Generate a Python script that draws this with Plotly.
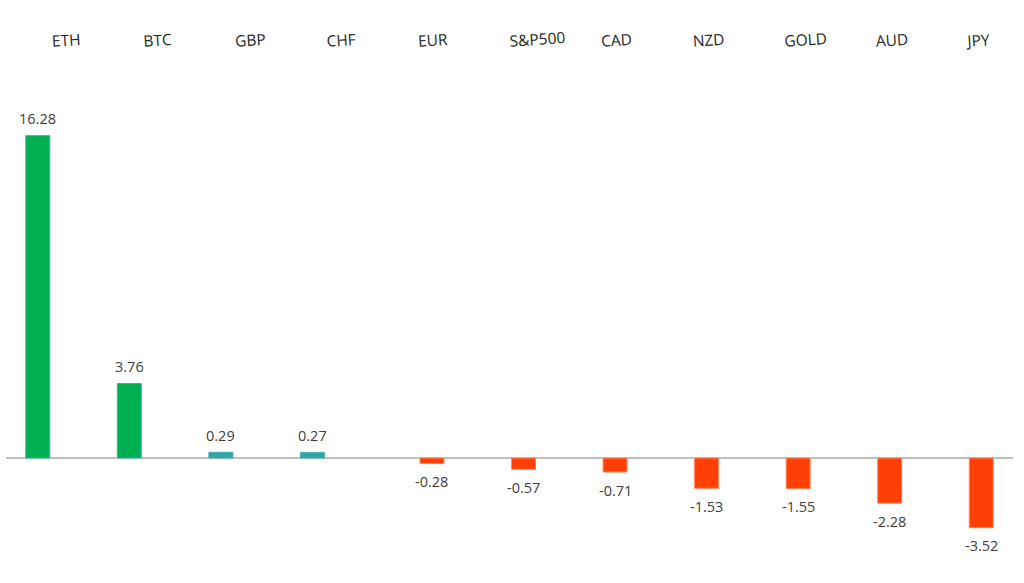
import plotly.graph_objects as go

categories = ["ETH", "BTC", "GBP", "CHF", "EUR", "S&P500", "CAD", "NZD", "GOLD", "AUD", "JPY"]
values = [16.28, 3.76, 0.29, 0.27, -0.28, -0.57, -0.71, -1.53, -1.55, -2.28, -3.52]
pos_colors = ["#00B050", "#00B050", "#2FA3A8", "#2FA3A8"]
neg_color = "#FF3F05"

idx = list(range(len(categories)))
bar_w = 0.262
shift = 0.153

pos_x = [i for i, v in zip(idx, values) if v >= 0]
pos_y = [v for v in values if v >= 0]
neg_x = [i for i, v in zip(idx, values) if v < 0]
neg_y = [v for v in values if v < 0]

fig = go.Figure()
fig.add_trace(go.Bar(
    x=pos_x, y=pos_y, width=bar_w, offset=-shift - bar_w / 2,
    marker=dict(color=pos_colors, line=dict(color="#3FAFA8", width=1)),
    hoverinfo="skip", showlegend=False,
))
fig.add_trace(go.Bar(
    x=neg_x, y=neg_y, width=bar_w, offset=shift - bar_w / 2,
    marker=dict(color=neg_color, line=dict(color="#FF8A5C", width=1)),
    hoverinfo="skip", showlegend=False,
))

for i, v in zip(idx, values):
    xc = i - shift if v >= 0 else i + shift
    fig.add_annotation(
        x=xc, y=v, text=f"{v:.2f}", showarrow=False,
        yshift=17 if v >= 0 else -18,
        font=dict(family="Open Sans", size=14.5, color="#404040"),
    )

fig.update_layout(
    width=1024, height=583,
    margin=dict(l=6, r=11, t=60, b=33, autoexpand=False),
    paper_bgcolor="white", plot_bgcolor="white",
    barmode="overlay",
    xaxis=dict(
        side="top", range=[-0.5, 10.5], tickmode="array",
        tickvals=idx, ticktext=categories, tickangle=-4,
        ticklabelshift=0, ticklabelstandoff=9,
        showgrid=False, zeroline=False, showline=False, ticks="",
        tickfont=dict(family="Open Sans", size=15.5, color="#262626"),
        fixedrange=True, automargin=False,
    ),
    yaxis=dict(
        range=[-(550 - 458) / 19.8, (458 - 60) / 19.8],
        showgrid=False, showticklabels=False, ticks="",
        zeroline=True, zerolinecolor="#BFBFBF", zerolinewidth=1.5,
        showline=False, fixedrange=True, automargin=False,
    ),
)

fig.write_html(
    "out.html",
    config={"displayModeBar": False},
    post_script="document.body.style.margin='0';document.body.style.overflow='hidden';",
)
